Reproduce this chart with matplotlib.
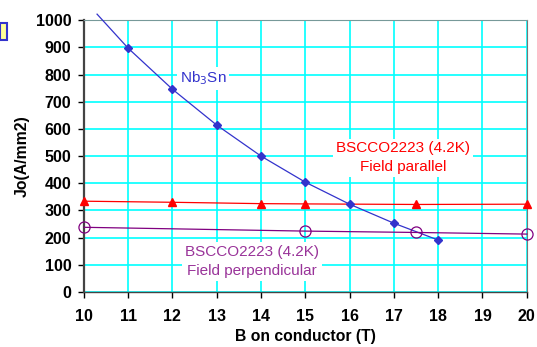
import matplotlib
matplotlib.use('Agg')
import matplotlib.pyplot as plt
from matplotlib.patches import Rectangle

plt.rcParams['font.family'] = ['Liberation Sans', 'DejaVu Sans']

# Nb3Sn
nb_b = [10.3, 11, 12, 13, 14, 15, 16, 17, 18]
nb_j = [1022, 897, 746, 614, 500, 404, 323, 253, 191]
nb_mark_b = nb_b[1:]
nb_mark_j = nb_j[1:]

# BSCCO2223 field parallel
par_b = [10, 12, 14, 15, 17.5, 20]
par_j = [334, 330, 325, 324, 322, 323]

# BSCCO2223 field perpendicular
perp_b = [10, 15, 17.5, 20]
perp_j = [238, 224, 219, 213]

x_ticks = list(range(10, 21))
y_ticks = list(range(0, 1001, 100))

fig = plt.figure(figsize=(5.37, 3.47), dpi=100)
ax = fig.add_axes([0.156, 0.1585, 0.825, 0.7835])
ax.set_xlim(10, 20)
ax.set_ylim(0, 1000)
ax.set_xticks(x_ticks)
ax.set_yticks(y_ticks)
ax.grid(True, color='#00FFFF', linewidth=1.2)
ax.set_axisbelow(True)

blue = '#3333CC'
purple = '#800080'

ax.plot(nb_b, nb_j, color=blue, linewidth=0.9, clip_on=False, zorder=3)
ax.plot(nb_mark_b, nb_mark_j, linestyle='none', marker='D', markersize=4.5,
        color=blue, zorder=4)
ax.plot(par_b, par_j, color='red', linewidth=0.9, marker='^', markersize=6,
        zorder=3, clip_on=False)
ax.plot(perp_b, perp_j, color=purple, linewidth=0.9, marker='o', markersize=8,
        markerfacecolor='none', markeredgewidth=0.9, zorder=3, clip_on=False)

box = dict(facecolor='white', edgecolor='none', pad=2)
ax.text(12.7, 785, 'Nb$_3$Sn', color=blue, fontsize=11, ha='center',
        va='center', bbox=box)
ax.text(17.2, 493, 'BSCCO2223 (4.2K)\nField parallel', color='red',
        fontsize=11, ha='center', va='center', linespacing=1.45, bbox=box)
ax.text(13.8, 112, 'BSCCO2223 (4.2K)\nField perpendicular', color='#993399',
        fontsize=11, ha='center', va='center', linespacing=1.45, bbox=box)

for s in ['left', 'bottom']:
    ax.spines[s].set_color('#444444')
ax.spines['left'].set_linewidth(1.6)
ax.spines['bottom'].set_linewidth(1.0)
ax.spines['right'].set_color('#777777')
ax.spines['top'].set_color('#779999')

ax.tick_params(direction='out', length=4, width=1, colors='black',
               labelsize=11.5)
for lab in ax.get_xticklabels() + ax.get_yticklabels():
    lab.set_fontweight('bold')
ax.tick_params(axis='x', pad=8)
ax.tick_params(axis='y', pad=5)

ax.set_xlabel('B on conductor (T)', fontsize=11.3, fontweight='bold', labelpad=4)
ax.set_ylabel('Jo(A/mm2)', fontsize=11.3, fontweight='bold', labelpad=4)

fig.patches.append(Rectangle((0, 0.885), 0.013, 0.05, transform=fig.transFigure,
                             facecolor='#FFFF99', edgecolor='#3333CC',
                             linewidth=1.5))

fig.savefig('out.png', dpi=100)
